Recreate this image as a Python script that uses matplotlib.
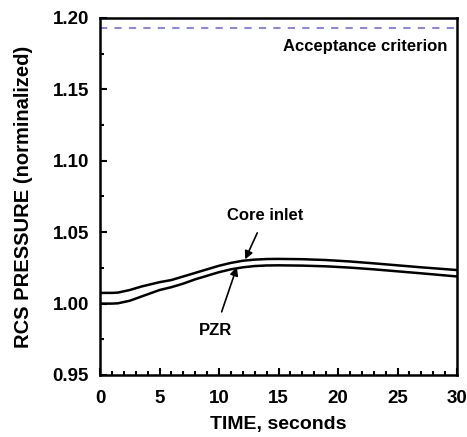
import matplotlib
matplotlib.use("Agg")
import matplotlib.pyplot as plt
from matplotlib.ticker import MultipleLocator

plt.rcParams["font.family"] = ["Liberation Sans", "DejaVu Sans"]
plt.rcParams["font.weight"] = "bold"

# values
time = [0, 1, 1.5, 2.5, 3.5, 5, 6, 7, 8, 9, 10, 11, 12, 13, 14, 15, 17, 19, 21, 23, 25, 27, 30]
core_inlet = [1.0075, 1.0075, 1.0077, 1.0095, 1.0120, 1.0150, 1.0165, 1.0190, 1.0215,
              1.0240, 1.0265, 1.0285, 1.0300, 1.0308, 1.0312, 1.0313, 1.0311, 1.0305,
              1.0295, 1.0282, 1.0268, 1.0254, 1.0235]
pzr = [1.0000, 1.0000, 1.0002, 1.0020, 1.0050, 1.0095, 1.0115, 1.0140, 1.0170,
       1.0195, 1.0220, 1.0240, 1.0254, 1.0263, 1.0267, 1.0268, 1.0266, 1.0261,
       1.0252, 1.0240, 1.0226, 1.0212, 1.0190]
acceptance = 1.193

fig = plt.figure(figsize=(4.67, 4.37), dpi=100)
ax = fig.add_axes([100 / 467, 62 / 437, 357 / 467, 357 / 437])

ax.plot(time, core_inlet, color="black", lw=1.8)
ax.plot(time, pzr, color="black", lw=1.8)
ax.axhline(acceptance, color="#7878ff", lw=1.3, dashes=(4, 4))

ax.text(29.2, 1.18, "Acceptance criterion", ha="right", va="center", fontsize=12, fontweight="bold")
ax.annotate("Core inlet", xy=(12.2, 1.031), xytext=(13.9, 1.062), ha="center", va="center",
            fontsize=12, fontweight="bold",
            arrowprops=dict(arrowstyle="-|>", color="black", lw=1.2, shrinkA=6, shrinkB=0,
                            mutation_scale=12))
ax.annotate("PZR", xy=(11.5, 1.0255), xytext=(9.7, 0.9815), ha="center", va="center",
            fontsize=12, fontweight="bold",
            arrowprops=dict(arrowstyle="-|>", color="black", lw=1.2, shrinkA=6, shrinkB=0,
                            mutation_scale=12))

ax.set_xlim(0, 30)
ax.set_ylim(0.95, 1.20)
ax.xaxis.set_major_locator(MultipleLocator(5))
ax.xaxis.set_minor_locator(MultipleLocator(1))
ax.yaxis.set_major_locator(MultipleLocator(0.05))
ax.yaxis.set_minor_locator(MultipleLocator(0.025))
ax.yaxis.set_major_formatter(plt.FormatStrFormatter("%.2f"))
ax.tick_params(which="both", direction="in", top=False, right=False, width=1.5)
ax.tick_params(which="major", length=5, labelsize=13.5)
ax.tick_params(which="minor", length=3)
ax.tick_params(axis="x", which="major", pad=11)
ax.tick_params(axis="y", which="major", pad=8)
for lbl in ax.get_xticklabels() + ax.get_yticklabels():
    lbl.set_fontweight("bold")
for s in ax.spines.values():
    s.set_linewidth(1.8)

ax.set_xlabel("TIME, seconds", fontsize=14, fontweight="bold")
ax.set_ylabel("RCS PRESSURE (norminalized)", fontsize=14.5, fontweight="bold")
ax.xaxis.set_label_coords(0.5, -0.115)
ax.yaxis.set_label_coords(-0.188, 0.5)

fig.savefig("out.png", dpi=100)
